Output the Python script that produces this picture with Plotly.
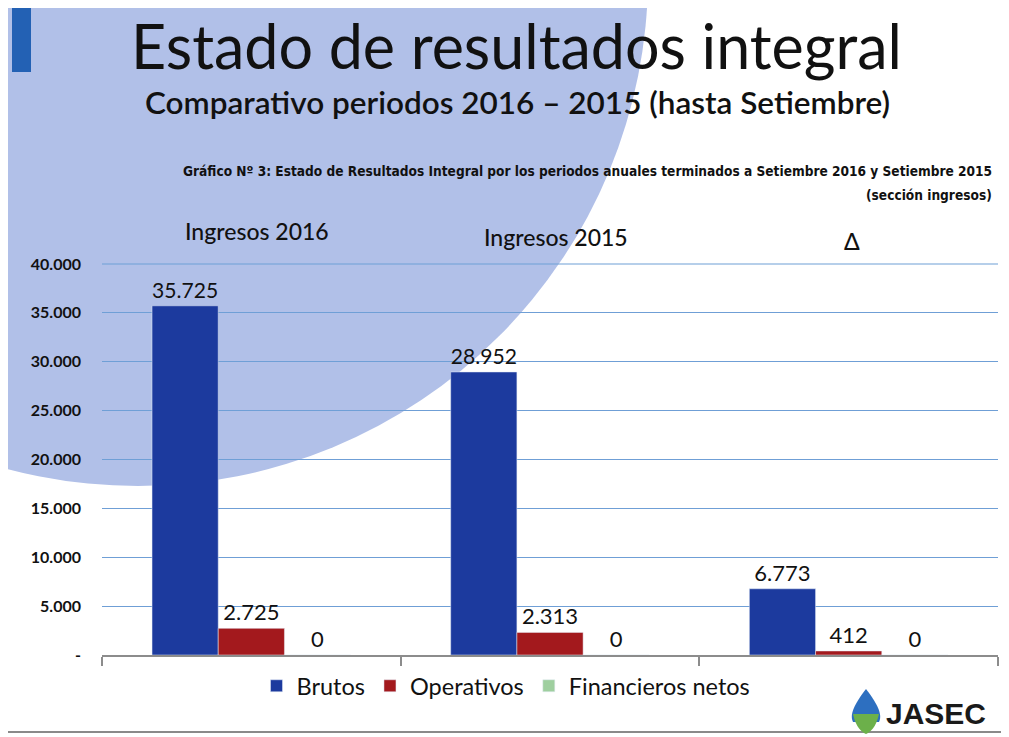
import plotly.graph_objects as go

# ---------------- data ----------------
categories = ["Ingresos 2016", "Ingresos 2015", "Δ"]
brutos = [35725, 28952, 6773]
operativos = [2725, 2313, 412]
financieros = [0, 0, 0]
y_tickvals = [0, 5000, 10000, 15000, 20000, 25000, 30000, 35000, 40000]
y_ticktext = ["-", "5.000", "10.000", "15.000", "20.000", "25.000", "30.000", "35.000", "40.000"]

# ---------------- layout geometry ----------------
# the page body has an 8px margin, so the figure is offset by OFF on screen
OFF = 8
W, H = 1009 - OFF, 737 - OFF
ML, MR, MT, MB = 102 - OFF, 11, 264 - OFF, 82
PW, PH = W - ML - MR, H - MT - MB


def px(x):
    return (x - OFF - ML) / PW


def py(y):
    return ((H - MB) - (y - OFF)) / PH


FONT = "Lato"
label_font = dict(family=FONT, size=22, color="#111111")

fig = go.Figure()
fig.add_bar(name="Brutos", x=categories, y=brutos, marker_color="#1c3a9e",
            text=brutos, texttemplate="%{y:,.0f}", textposition="outside",
            textfont=label_font, cliponaxis=False)
fig.add_bar(name="Operativos", x=categories, y=operativos, marker_color="#a3191d",
            text=operativos, texttemplate="%{y:,.0f}", textposition="outside",
            textfont=label_font, cliponaxis=False)
fig.add_bar(name="Financieros netos", x=categories, y=financieros, marker_color="#9fcf9f",
            text=financieros, texttemplate="%{y:,.0f}", textposition="outside",
            textfont=label_font, cliponaxis=False)

shapes = [
    # large light-blue background disc
    dict(type="circle", xref="paper", yref="paper", layer="below",
         x0=px(138 - 510), x1=px(138 + 510), y0=py(-24 + 510), y1=py(-24 - 510),
         fillcolor="#b1c0e8", line=dict(width=0)),
    # blue accent bar
    dict(type="rect", xref="paper", yref="paper", layer="below",
         x0=px(12), x1=px(31), y0=py(72), y1=py(8),
         fillcolor="#2361b4", line=dict(width=0)),
    # top gridline (range end)
    dict(type="line", xref="paper", yref="paper", layer="below",
         x0=0, x1=1, y0=1, y1=1, line=dict(color="#6f9fd6", width=1.2)),
    # bottom rule
    dict(type="line", xref="paper", yref="paper", layer="below",
         x0=px(0), x1=px(1009), y0=py(732), y1=py(732),
         line=dict(color="#8a8a8a", width=2)),
    # logo drop (blue top, green bottom)
    dict(type="path", xref="paper", yref="paper",
         path=f"M {px(866)} {py(689)} C {px(852)} {py(707)} {px(850)} {py(716)} {px(853)} {py(722)} "
              f"L {px(879)} {py(722)} C {px(882)} {py(716)} {px(880)} {py(707)} {px(866)} {py(689)} Z",
         fillcolor="#2d6fc0", line=dict(width=0)),
    dict(type="path", xref="paper", yref="paper",
         path=f"M {px(853)} {py(714)} C {px(856)} {py(728)} {px(862)} {py(732)} {px(866)} {py(734)} "
              f"C {px(870)} {py(732)} {px(876)} {py(728)} {px(879)} {py(714)} Z",
         fillcolor="#6cb04a", line=dict(width=0)),
]

annotations = [
    dict(text="Estado de resultados integral", x=px(516), y=py(8), xref="paper", yref="paper",
         showarrow=False, font=dict(family=FONT, size=61, color="#111111"),
         xanchor="center", yanchor="top", borderpad=0),
    dict(text="Comparativo periodos 2016 – 2015 (hasta Setiembre)", x=px(517), y=py(102),
         xref="paper", yref="paper", showarrow=False,
         font=dict(family=FONT, size=31.5, color="#111111", weight=600), xanchor="center", yanchor="middle"),
    dict(text="Gráfico Nº 3: Estado de Resultados Integral por los periodos anuales terminados a Setiembre 2016 y Setiembre 2015",
         x=px(994), y=py(171), xref="paper", yref="paper", showarrow=False,
         font=dict(family="DejaVu Sans Condensed", size=13.6, color="#111111", weight="bold"),
         xanchor="right", yanchor="middle"),
    dict(text="(sección ingresos)", x=px(994), y=py(195), xref="paper", yref="paper", showarrow=False,
         font=dict(family="DejaVu Sans Condensed", size=13.6, color="#111111", weight="bold"),
         xanchor="right", yanchor="middle"),
    dict(text="JASEC", x=px(884), y=py(713), xref="paper", yref="paper", showarrow=False,
         font=dict(family="Liberation Sans", size=30, color="#1a1a1a", weight="bold"),
         xanchor="left", yanchor="middle"),
]
cat_label_y = [231, 237, 241]
cat_label_dx = [6, 6, 3]
for c, yy, dx in zip(categories, cat_label_y, cat_label_dx):
    annotations.append(dict(text=c, x=c, xref="x", y=py(yy), yref="paper", showarrow=False,
                            xshift=dx, font=dict(family=FONT, size=23, color="#111111", weight=500),
                            xanchor="center", yanchor="middle"))

fig.update_layout(
    width=W, height=H,
    margin=dict(l=ML, r=MR, t=MT, b=MB, pad=0, autoexpand=False),
    paper_bgcolor="white", plot_bgcolor="rgba(0,0,0,0)",
    barmode="group", bargap=0.335, bargroupgap=0,
    separators=",.",
    showlegend=True,
    legend=dict(orientation="h", x=px(506), xanchor="center", y=py(686), yanchor="middle",
                font=dict(family=FONT, size=23.5, color="#111111"), bgcolor="rgba(0,0,0,0)",
                itemwidth=30, traceorder="normal"),
    shapes=shapes, annotations=annotations,
    font=dict(family=FONT),
)
fig.update_xaxes(showticklabels=False, showgrid=False, showline=True, linecolor="#8c8c8c",
                 linewidth=1.5, ticks="outside", tickson="boundaries", ticklen=9,
                 tickcolor="#8c8c8c", tickwidth=1.5, automargin=False)
fig.update_yaxes(range=[0, 40000], tickvals=y_tickvals, ticktext=y_ticktext,
                 showgrid=True, gridcolor="#6f9fd6", gridwidth=1.2, zeroline=False,
                 showline=False, ticks="", ticklabelstandoff=20, automargin=False,
                 tickfont=dict(family=FONT, size=16, color="#111111", weight="bold"))

fig.write_html("out.html")
